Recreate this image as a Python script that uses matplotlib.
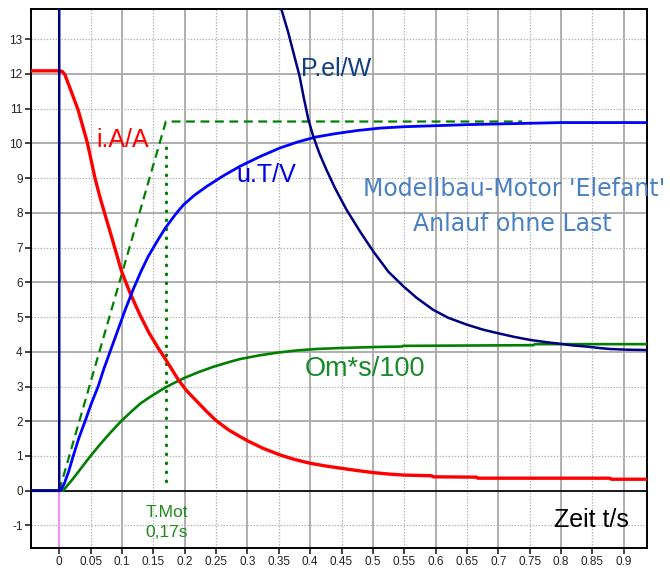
import matplotlib
matplotlib.use("Agg")
import matplotlib.pyplot as plt
import numpy as np

plt.rcParams['font.family'] = ['Liberation Sans', 'DejaVu Sans']

# ---- measured series (time in s) ----
t_i = [-0.045, 0.0, 0.005, 0.009, 0.018, 0.030, 0.045, 0.057, 0.065, 0.073,
       0.082, 0.090, 0.0995, 0.113, 0.129, 0.143, 0.158, 0.170, 0.190, 0.203,
       0.219, 0.235, 0.250, 0.270, 0.288, 0.301, 0.325, 0.352, 0.375, 0.400,
       0.425, 0.450, 0.475, 0.501, 0.525, 0.549, 0.594, 0.596, 0.665, 0.667,
       0.878, 0.880, 0.937]
i_A = [12.09, 12.09, 12.07, 11.98, 11.55, 10.97, 10.01, 9.00, 8.45, 7.95,
       7.40, 6.90, 6.31, 5.69, 5.05, 4.55, 4.10, 3.77, 3.19, 2.88,
       2.58, 2.28, 2.02, 1.75, 1.56, 1.43, 1.22, 1.03, 0.90, 0.79,
       0.71, 0.645, 0.58, 0.52, 0.48, 0.45, 0.43, 0.40, 0.39, 0.36,
       0.36, 0.33, 0.33]

t_u = [-0.045, 0.002, 0.008, 0.015, 0.022, 0.031, 0.041, 0.051, 0.062, 0.071,
       0.081, 0.093, 0.105, 0.118, 0.130, 0.142, 0.155, 0.169, 0.185, 0.198,
       0.215, 0.235, 0.260, 0.288, 0.320, 0.352, 0.380, 0.408, 0.440, 0.475,
       0.511, 0.550, 0.600, 0.650, 0.700, 0.750, 0.800, 0.937]
u_T = [0.0, 0.0, 0.2, 0.55, 0.98, 1.5, 1.99, 2.5, 3.0, 3.5,
       4.0, 4.6, 5.2, 5.8, 6.3, 6.75, 7.15, 7.56, 7.95, 8.23,
       8.5, 8.76, 9.05, 9.34, 9.62, 9.87, 10.04, 10.18, 10.28, 10.37,
       10.44, 10.48, 10.51, 10.54, 10.56, 10.58, 10.6, 10.6]

t_om = [-0.045, 0.006, 0.020, 0.035, 0.049, 0.065, 0.080, 0.098, 0.115, 0.130,
        0.150, 0.169, 0.185, 0.200, 0.220, 0.246, 0.270, 0.288, 0.320, 0.350,
        0.380, 0.410, 0.450, 0.510, 0.546, 0.548, 0.756, 0.758, 0.937]
om_s = [0.0, 0.0, 0.3, 0.65, 0.98, 1.33, 1.64, 1.99, 2.28, 2.52,
        2.76, 2.97, 3.12, 3.25, 3.40, 3.57, 3.70, 3.79, 3.90, 3.98,
        4.04, 4.08, 4.11, 4.14, 4.15, 4.17, 4.19, 4.22, 4.22]

t_p = [-0.045, 0.0, 0.0, 0.05, 0.1, 0.2, 0.25, 0.30, 0.32, 0.34, 0.354,
       0.365, 0.376, 0.383, 0.390, 0.397, 0.405, 0.415, 0.426, 0.440, 0.458,
       0.480, 0.501, 0.525, 0.549, 0.570, 0.596, 0.620, 0.650, 0.675, 0.698,
       0.725, 0.751, 0.775, 0.798, 0.820, 0.841, 0.860, 0.878, 0.905, 0.937]
p_el = [0.0, 0.0, 120.0, 80.0, 55.0, 30.0, 23.0, 18.2, 16.5, 15.0, 13.87,
        13.2, 12.43, 11.95, 11.3, 10.7, 10.2, 9.7, 9.24, 8.7, 8.09,
        7.45, 6.88, 6.3, 5.88, 5.55, 5.21, 4.98, 4.78, 4.64, 4.54,
        4.43, 4.34, 4.28, 4.23, 4.18, 4.15, 4.11, 4.08, 4.06, 4.05]

# motor time constant construction
T_MOT = 0.17
tan_t = [0.0, T_MOT, 0.738]
tan_v = [0.0, 10.63, 10.63]
mark_v = [0.28, 10.03]

x_ticks = np.round(np.arange(0, 0.901, 0.05), 2)
y_ticks = list(range(-1, 14))

fig = plt.figure(figsize=(6.7, 5.72), dpi=100)
ax = fig.add_axes([31 / 670, 1 - 548 / 572, 616 / 670, 539 / 572])
ax.set_xlim(-0.045, 0.937)
ax.set_ylim(-1.65, 13.87)

# grid: solid at every 0.1 / even value, dotted in between
for k, xv in enumerate(x_ticks):
    if k % 2 == 0:
        ax.axvline(xv, color='#a8a8a8', lw=1.3, zorder=0)
    else:
        ax.axvline(xv, color='#b8b8b8', lw=0.9, ls=(0, (1.2, 1.2)), zorder=0)
for yv in y_ticks:
    if yv % 2 == 0:
        ax.axhline(yv, color='#a8a8a8', lw=1.3, zorder=0)
    else:
        ax.axhline(yv, color='#b8b8b8', lw=0.9, ls=(0, (1.2, 1.2)), zorder=0)
ax.axhline(0, color='black', lw=1.2, zorder=1)
ax.axvline(0, color='#ff88ff', lw=1.3, zorder=1)

# curves
ax.plot(tan_t, tan_v, color='#008000', lw=1.6, ls=(0, (4, 2.5)), zorder=3)
ax.plot([T_MOT, T_MOT], mark_v, color='#008000', lw=2.4, ls=(0, (0.1, 2.6)),
        dash_capstyle='round', zorder=3)
ax.plot(t_om, om_s, color='#008000', lw=1.9, zorder=4)
ax.plot(t_i, i_A, color='#ff0000', lw=2.4, zorder=5)
ax.plot(t_u, u_T, color='#0000ff', lw=2.0, zorder=6)
ax.plot(t_p, p_el, color='#000080', lw=1.8, zorder=7)

# labels
ax.text(0.0585, 9.91, 'i.A/A', color='#ff0000', fontsize=18)
ax.text(0.385, 11.95, 'P.el/W', color='#123f80', fontsize=18)
ax.text(0.282, 8.88, 'u.T/V', color='#0000e6', fontsize=18)
ax.text(0.392, 3.29, 'Om*s/100', color='#178a2a', fontsize=19.5)
ax.text(0.788, -1.05, 'Zeit t/s', color='black', fontsize=18)
ax.text(0.138, -0.77, 'T.Mot', color='#1e8a1e', fontsize=12.5)
ax.text(0.138, -1.33, '0,17s', color='#1e8a1e', fontsize=12.5)
ax.text(0.725, 8.69, "Modellbau-Motor 'Elefant'", color='#4a80c4',
        fontsize=17, family='DejaVu Sans', ha='center', va='center',
        clip_on=False)
ax.text(0.723, 7.68, 'Anlauf ohne Last', color='#4a80c4',
        fontsize=17, family='DejaVu Sans', ha='center', va='center')

# axes
ax.set_xticks(x_ticks)
ax.set_xticklabels(['%g' % v for v in x_ticks])
ax.set_yticks(y_ticks)
ax.set_yticklabels([str(v) for v in y_ticks])
ax.tick_params(axis='both', labelsize=8.5, colors='#222222', length=4,
               width=1.2, direction='out')
ax.tick_params(axis='x', pad=2)
ax.tick_params(axis='y', pad=2)
for s in ax.spines.values():
    s.set_color('black')
    s.set_linewidth(1.4)

fig.savefig('out.png', dpi=100, facecolor='white')
